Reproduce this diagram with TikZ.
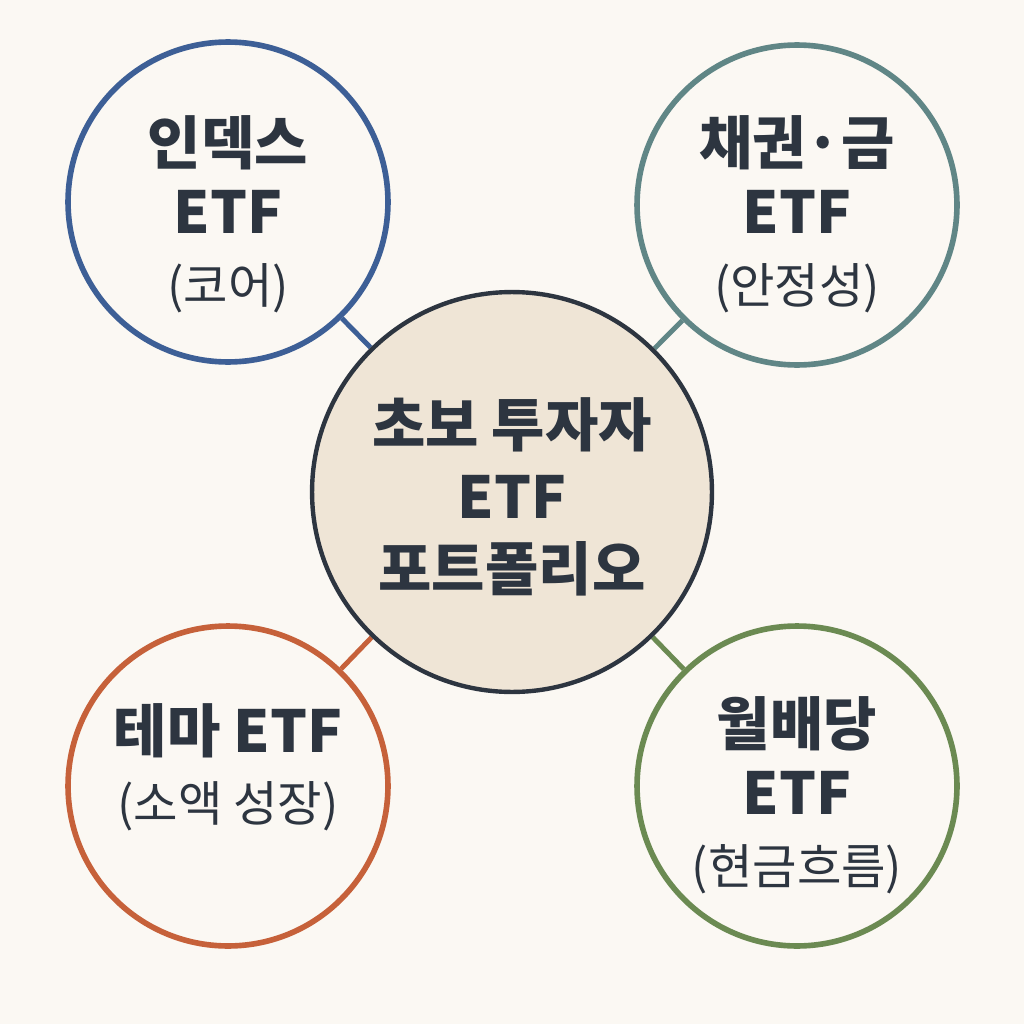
\documentclass[tikz,border=0pt]{standalone}
\usepackage{fontspec}
\setmainfont{Noto Sans CJK KR}
\usepackage{xcolor}
\usetikzlibrary{backgrounds}

\definecolor{paper}{HTML}{FBF8F3}
\definecolor{ink}{HTML}{2D3540}
\definecolor{sand}{HTML}{EFE5D6}
\definecolor{coreblue}{HTML}{3D5F96}
\definecolor{safeteal}{HTML}{608686}
\definecolor{themeorange}{HTML}{C6613A}
\definecolor{cashgreen}{HTML}{6B8A52}

\newcommand{\subline}{\fontsize{27.5}{33}\selectfont\mdseries}

\begin{document}
\begin{tikzpicture}[
    x=0.02cm, y=-0.02cm,
    hub/.style={circle, draw=ink, fill=sand, line width=2.5pt, minimum size=8cm, inner sep=0pt},
    ring/.style={circle, draw=#1, line width=3.2pt, minimum size=6.4cm, inner sep=0pt},
    spoke/.style={draw=#1, line width=2.8pt},
    title/.style={align=center, text=ink, font=\fontsize{33}{39.5}\selectfont\bfseries}
  ]
    \node[hub] (hub) at (512,492) {};
    \node[ring=coreblue] (core) at (228,202) {};
    \node[ring=safeteal] (safe) at (797,205) {};
    \node[ring=themeorange] (theme) at (228,786) {};
    \node[ring=cashgreen] (cash) at (797,786) {};

    \begin{scope}[on background layer]
      \fill[paper] (0,0) rectangle (1024,1024);
      \draw[spoke=coreblue] (core) -- (hub);
      \draw[spoke=safeteal] (safe) -- (hub);
      \draw[spoke=themeorange] (theme) -- (hub);
      \draw[spoke=cashgreen] (cash) -- (hub);
    \end{scope}

    % labels
    \node[title, font=\fontsize{33}{41}\selectfont\bfseries] (hubtext) at (512,497) {초보 투자자\\ETF\\포트폴리오};
    \node[title] (coretext) at (228,214) {인덱스\\ETF\\{\subline(코어)}};
    \node[title] (safetext) at (797,214) {채권·금\\ETF\\{\subline(안정성)}};
    \node[title] (themetext) at (228,767) {테마 ETF\\{\subline(소액 성장)}};
    \node[title] (cashtext) at (797,795) {월배당\\ETF\\{\subline(현금흐름)}};
\end{tikzpicture}
\end{document}
